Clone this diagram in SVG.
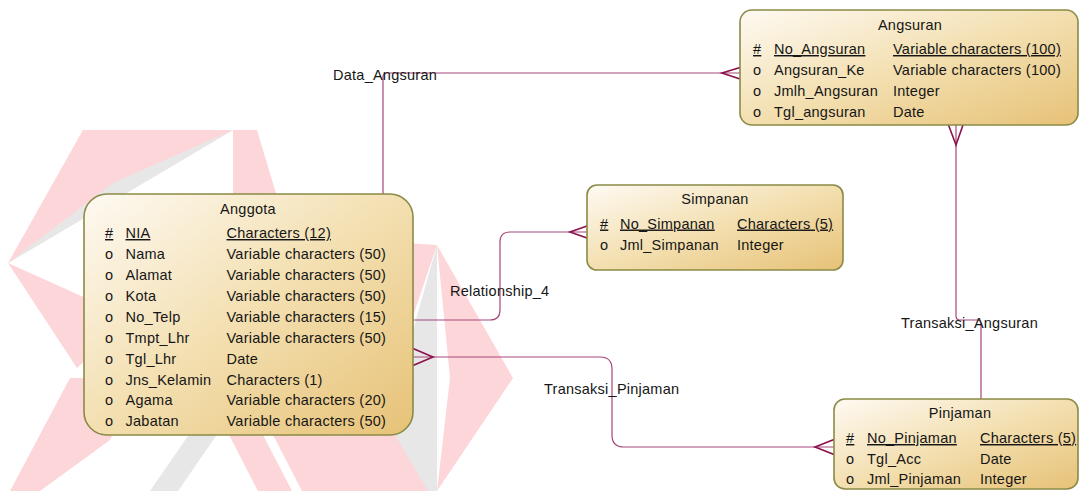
<svg xmlns="http://www.w3.org/2000/svg" width="1080" height="491" viewBox="0 0 1080 491">
  <defs>
    <linearGradient id="entFill" x1="0" y1="0" x2="1" y2="1">
      <stop offset="0" stop-color="#fefaf3"/>
      <stop offset="0.5" stop-color="#f3dfb0"/>
      <stop offset="1" stop-color="#e7c277"/>
    </linearGradient>
    <style>
      .ent { fill: url(#entFill); stroke: #8b8a46; stroke-width: 1.6; }
      text { font-family: "Liberation Sans", Arial, sans-serif; font-size: 14.5px; fill: #161616; letter-spacing: 0.25px; }
      .title { text-anchor: middle; }
      .pk { text-decoration: underline; }
      .link { fill: none; stroke: #a8477a; stroke-width: 1.2; }
      .foot { fill: none; stroke: #8b0f4a; stroke-width: 1.6; stroke-linejoin: miter; }
      .wm-pink { fill: #fdd6da; }
      .wm-gray { fill: #e7e7e7; }
    </style>
  </defs>

  <rect width="1080" height="491" fill="#ffffff"/>

  <!-- faint background logo -->
  <g id="backdrop-logo">
    <polygon class="wm-pink" points="83,130 233,130 8,263"/>
    <polygon class="wm-gray" points="233,130 113,183 8,263"/>
    <polygon class="wm-pink" points="233,130 257,130 278,200 233,200"/>
    <polygon class="wm-pink" points="8,263 130,318 77,368"/>
    <polygon class="wm-pink" points="70,378 140,378 110,440 40,491 10,491"/>
    <polygon class="wm-gray" points="190,433 218,433 178,491 150,491"/>
    <polygon class="wm-pink" points="228,433 262,433 292,491 258,491"/>
    <polygon class="wm-pink" points="272,433 400,433 430,491 302,491"/>
    <polygon class="wm-pink" points="405,243 437,245 405,340"/>
    <polygon class="wm-gray" points="437,245 437,491 428,491 395,435 413,330"/>
    <polygon class="wm-pink" points="437,245 513,378 437,491 450,378"/>
  </g>

  <!-- relationships -->
  <g id="connectors">
    <g id="Data_Angsuran">
      <path class="link" d="M383,194 V77 Q383,73 387,73 H740"/>
      <path class="foot" d="M740,67.5 L722,73 L740,79"/>
      <text x="333" y="80">Data_Angsuran</text>
    </g>
    <g id="Relationship_4">
      <path class="link" d="M413,320 H490 Q500,320 500,310 V242 Q500,232 510,232 H587"/>
      <path class="foot" d="M587,226 L570,232 L587,238"/>
      <text x="450" y="296">Relationship_4</text>
    </g>
    <g id="Transaksi_Pinjaman">
      <path class="link" d="M413,357 H600 Q612,357 612,369 V435 Q612,447 624,447 H834"/>
      <path class="foot" d="M413,348.5 L433,357 L413,365.5"/>
      <path class="foot" d="M834,439.5 L815,447 L834,454.5"/>
      <text x="544" y="394">Transaksi_Pinjaman</text>
    </g>
    <g id="Transaksi_Angsuran">
      <path class="link" d="M956,125 V316 Q956,320 960,320 H977 Q981,320 981,324 V399"/>
      <path class="foot" d="M948.5,125 L956,145 L963,125"/>
      <text x="901" y="328">Transaksi_Angsuran</text>
    </g>
  </g>

  <!-- entities -->
  <g id="Anggota">
    <rect class="ent" x="84" y="194" width="329" height="241" rx="23" ry="23"/>
    <text class="title" x="248" y="214">Anggota</text>
    <text x="105" y="238" class="pk">#</text>
    <text x="125.5" y="238" class="pk">NIA</text>
    <text x="226.5" y="238" class="pk">Characters (12)</text>
    <text x="105" y="259">o</text><text x="125.5" y="259">Nama</text><text x="226.5" y="259">Variable characters (50)</text>
    <text x="105" y="280">o</text><text x="125.5" y="280">Alamat</text><text x="226.5" y="280">Variable characters (50)</text>
    <text x="105" y="301">o</text><text x="125.5" y="301">Kota</text><text x="226.5" y="301">Variable characters (50)</text>
    <text x="105" y="322">o</text><text x="125.5" y="322">No_Telp</text><text x="226.5" y="322">Variable characters (15)</text>
    <text x="105" y="342.5">o</text><text x="125.5" y="342.5">Tmpt_Lhr</text><text x="226.5" y="342.5">Variable characters (50)</text>
    <text x="105" y="363.5">o</text><text x="125.5" y="363.5">Tgl_Lhr</text><text x="226.5" y="363.5">Date</text>
    <text x="105" y="384.5">o</text><text x="125.5" y="384.5">Jns_Kelamin</text><text x="226.5" y="384.5">Characters (1)</text>
    <text x="105" y="405">o</text><text x="125.5" y="405">Agama</text><text x="226.5" y="405">Variable characters (20)</text>
    <text x="105" y="426">o</text><text x="125.5" y="426">Jabatan</text><text x="226.5" y="426">Variable characters (50)</text>
  </g>

  <g id="Simpanan">
    <rect class="ent" x="587" y="185" width="256" height="85" rx="10" ry="10"/>
    <text class="title" x="715" y="204">Simpanan</text>
    <text x="600" y="228.5" class="pk">#</text>
    <text x="620" y="228.5" class="pk">No_Simpanan</text>
    <text x="737" y="228.5" class="pk">Characters (5)</text>
    <text x="600" y="249.5">o</text><text x="620" y="249.5">Jml_Simpanan</text><text x="737" y="249.5">Integer</text>
  </g>

  <g id="Angsuran">
    <rect class="ent" x="740" y="10" width="338" height="115" rx="12" ry="12"/>
    <text class="title" x="910" y="30">Angsuran</text>
    <text x="753" y="54" class="pk">#</text>
    <text x="774" y="54" class="pk">No_Angsuran</text>
    <text x="893" y="54" class="pk">Variable characters (100)</text>
    <text x="753" y="75">o</text><text x="774" y="75">Angsuran_Ke</text><text x="893" y="75">Variable characters (100)</text>
    <text x="753" y="96">o</text><text x="774" y="96">Jmlh_Angsuran</text><text x="893" y="96">Integer</text>
    <text x="753" y="117">o</text><text x="774" y="117">Tgl_angsuran</text><text x="893" y="117">Date</text>
  </g>

  <g id="Pinjaman">
    <rect class="ent" x="834" y="399" width="244" height="90" rx="11" ry="11"/>
    <text class="title" x="960" y="418">Pinjaman</text>
    <text x="846" y="443" class="pk">#</text>
    <text x="867" y="443" class="pk">No_Pinjaman</text>
    <text x="980" y="443" class="pk">Characters (5)</text>
    <text x="846" y="463.5">o</text><text x="867" y="463.5">Tgl_Acc</text><text x="980" y="463.5">Date</text>
    <text x="846" y="483.5">o</text><text x="867" y="483.5">Jml_Pinjaman</text><text x="980" y="483.5">Integer</text>
  </g>
</svg>
